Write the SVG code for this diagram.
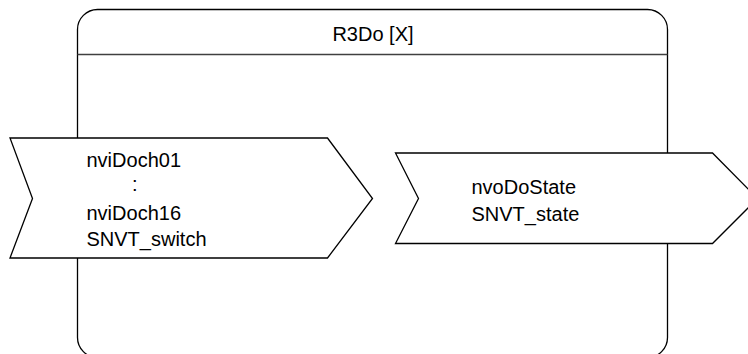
<svg xmlns="http://www.w3.org/2000/svg" width="748" height="354" viewBox="0 0 748 354">
  <style>
    .frame { fill: #ffffff; stroke: #000000; stroke-width: 1.3; }
    .divider { fill: none; stroke: #404040; stroke-width: 1.6; }
    .port { fill: #ffffff; stroke: #000000; stroke-width: 1.3; stroke-linejoin: miter; }
    .lbl { font-family: "Liberation Sans", Arial, Helvetica, sans-serif; font-size: 20px; fill: #000000; }
  </style>

  <!-- Function block container with title compartment -->
  <g id="block-r3do">
    <rect class="frame" x="77.5" y="9.5" width="590" height="348" rx="20" ry="20"/>
    <line class="divider" x1="77.5" y1="54.5" x2="667.5" y2="54.5"/>
    <text class="lbl" x="373" y="41" text-anchor="middle">R3Do [X]</text>
  </g>

  <!-- Input network variables -->
  <g id="port-inputs">
    <polygon class="port" points="10,138 327.5,138 372.5,198.5 327.5,258 10,258 32.5,198.5"/>
    <text class="lbl" x="86.5" y="166.5">nviDoch01</text>
    <text class="lbl" x="132" y="191">:</text>
    <text class="lbl" x="86.5" y="219.5">nviDoch16</text>
    <text class="lbl" x="86.5" y="246">SNVT_switch</text>
  </g>

  <!-- Output network variable -->
  <g id="port-output">
    <polygon class="port" points="395.5,153 712.5,153 757.5,198.5 712.5,243.5 395.5,243.5 418.5,198.5"/>
    <text class="lbl" x="471.5" y="193.5">nvoDoState</text>
    <text class="lbl" x="471.5" y="220.5">SNVT_state</text>
  </g>

  <g id="connectors"/>
</svg>
